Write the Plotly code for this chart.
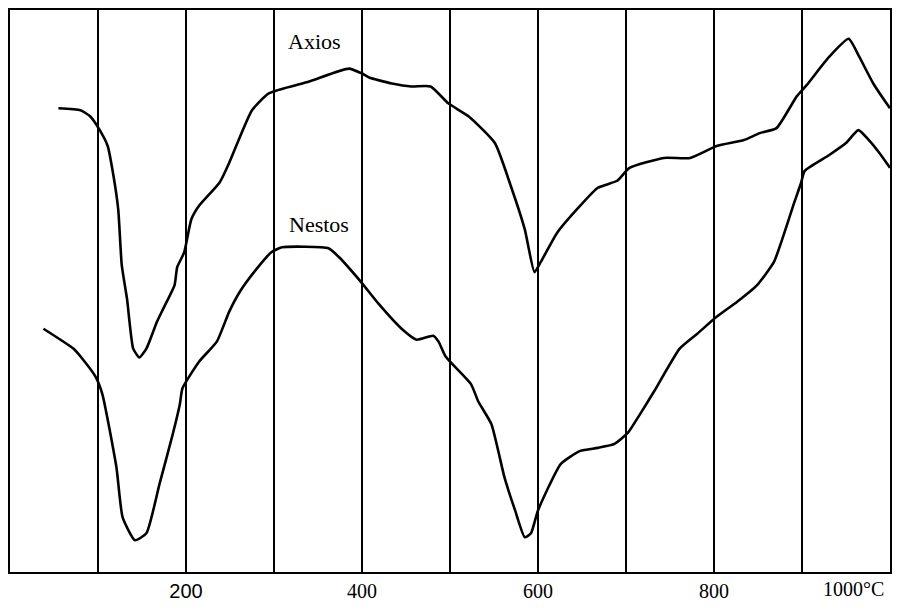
import plotly.graph_objects as go

# Temperature (°C) and deflection (arbitrary units)
axios_t = [55, 80, 91, 102, 111, 117, 123, 127, 133, 140, 147, 155, 167, 174, 187, 190, 198, 206, 215, 238, 249, 257, 275, 294, 340, 385, 400, 408, 434, 456, 478, 498, 521, 551, 569, 585, 596, 603, 622, 648, 668, 690, 704, 743, 773, 803, 834, 852, 871, 894, 905, 931, 953, 965, 981, 996, 1000]
axios_y = [467, 465, 459, 445, 429, 402, 365, 309, 275, 225, 216, 225, 252, 265, 289, 307, 322, 355, 369, 392, 412, 429, 465, 482, 494, 507, 502, 498, 492, 489, 489, 472, 459, 432, 389, 345, 302, 312, 342, 369, 387, 394, 407, 417, 417, 429, 435, 442, 447, 479, 490, 519, 537, 519, 492, 472, 467]

nestos_t = [38, 72, 82, 97, 105, 121, 128, 142, 155, 170, 185, 193, 196, 215, 235, 249, 261, 280, 297, 309, 362, 374, 399, 419, 445, 462, 481, 487, 495, 524, 532, 547, 562, 574, 585, 592, 600, 626, 648, 668, 687, 702, 716, 732, 761, 781, 803, 826, 849, 868, 879, 890, 899, 903, 931, 950, 964, 976, 988, 1000]
nestos_y = [245, 225, 215, 197, 179, 105, 55, 32, 39, 89, 139, 169, 185, 212, 232, 262, 282, 305, 322, 327, 326, 317, 292, 270, 245, 234, 238, 232, 217, 189, 172, 149, 95, 62, 35, 39, 62, 109, 122, 125, 129, 140, 159, 182, 225, 240, 257, 272, 289, 312, 339, 369, 392, 404, 420, 432, 445, 435, 422, 407]

grid_t = [100, 200, 300, 400, 500, 600, 700, 800, 900]
tick_text = ["", "<span style=\"font-family:'Liberation Sans'\">200</span>", "", "400", "", "600", "", "800", ""]

fig = go.Figure()
line_style = dict(color="black", width=2.6, shape="spline", smoothing=0.5)
fig.add_trace(go.Scatter(x=axios_t, y=axios_y, mode="lines", line=line_style, name="Axios", showlegend=False))
fig.add_trace(go.Scatter(x=nestos_t, y=nestos_y, mode="lines", line=line_style, name="Nestos", showlegend=False))

font_serif = "Liberation Serif"
fig.add_annotation(x=346, y=534, text="Axios", showarrow=False,
                   font=dict(family=font_serif, size=22, color="black"))
fig.add_annotation(x=351, y=350, text="Nestos", showarrow=False,
                   font=dict(family=font_serif, size=22, color="black"))
fig.add_annotation(xref="paper", yref="paper", x=0.996, y=-0.031, xanchor="right", yanchor="middle",
                   text="1000°C", showarrow=False,
                   font=dict(family=font_serif, size=20, color="black"))

fig.update_layout(
    width=884, height=594,
    margin=dict(l=2, r=1, t=0, b=30),
    paper_bgcolor="white", plot_bgcolor="white",
    xaxis=dict(range=[0, 1000], tickmode="array", tickvals=grid_t, ticktext=tick_text,
               showgrid=True, gridcolor="black", gridwidth=2,
               showline=True, linecolor="black", linewidth=2, mirror=True,
               ticks="", zeroline=False,
               tickfont=dict(family=font_serif, size=20, color="black")),
    yaxis=dict(range=[0, 566], showticklabels=False, showgrid=False, zeroline=False,
               showline=True, linecolor="black", linewidth=2, mirror=True, ticks=""),
)

fig.write_html("out.html")
